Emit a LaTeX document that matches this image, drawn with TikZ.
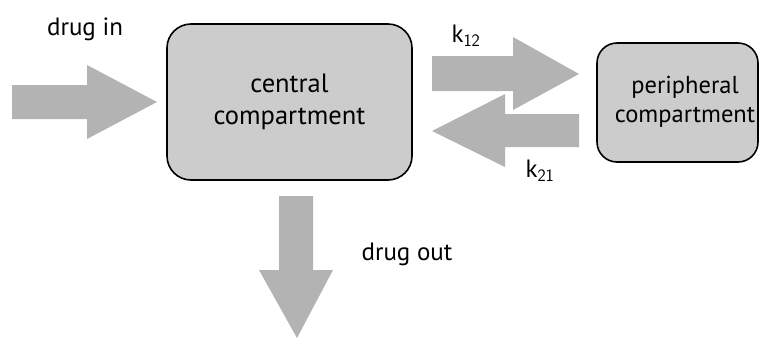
\documentclass[tikz,border=0pt]{standalone}
\usepackage{fontspec}
\setmainfont{PT Sans}
\begin{document}
\begin{tikzpicture}[x=1pt,y=-1pt,
  box/.style={draw=black,line width=1.6pt,fill=boxgray,rounded corners=24pt},
  blockarrow/.style={fill=arrowgray,draw=none},
  lbl/.style={font=\fontsize{25}{28}\selectfont,inner sep=0pt}]
\definecolor{boxgray}{HTML}{CCCCCC}
\definecolor{arrowgray}{HTML}{B3B3B3}
\useasboundingbox (0,0) rectangle (760,338);
% boxes
\draw[box] (167,24) rectangle (412,180);
\node[font=\fontsize{26.5}{32}\selectfont,align=center] (central) at (289.5,102) {central\\compartment};
\draw[box,rounded corners=20pt] (597,43) rectangle (758,162);
\node[font=\fontsize{24.5}{29}\selectfont,align=center] (peri) at (685,102) {peripheral\\compartment};
% drug in arrow
\fill[blockarrow] (12,85) -- (87,85) -- (87,65) -- (157,102) -- (87,139) -- (87,119) -- (12,119) -- cycle;
% k12 arrow
\fill[blockarrow] (432,56) -- (513,56) -- (513,37) -- (579,74) -- (513,110) -- (513,91) -- (432,91) -- cycle;
% k21 arrow
\fill[blockarrow] (579,114) -- (505,114) -- (505,94) -- (432,131) -- (505,167) -- (505,147) -- (579,147) -- cycle;
% drug out arrow
\fill[blockarrow] (279,196) -- (313,196) -- (313,270) -- (333,270) -- (297,338) -- (259,270) -- (279,270) -- cycle;
% labels
\node[lbl] (din) at (85,29) {drug in};
\node[lbl] (k12) at (466,36) {k$_{\mathsf{12}}$};
\node[lbl] (k21) at (540,171) {k$_{\mathsf{21}}$};
\node[lbl] (dout) at (407,254) {drug out};
\end{tikzpicture}
\end{document}
